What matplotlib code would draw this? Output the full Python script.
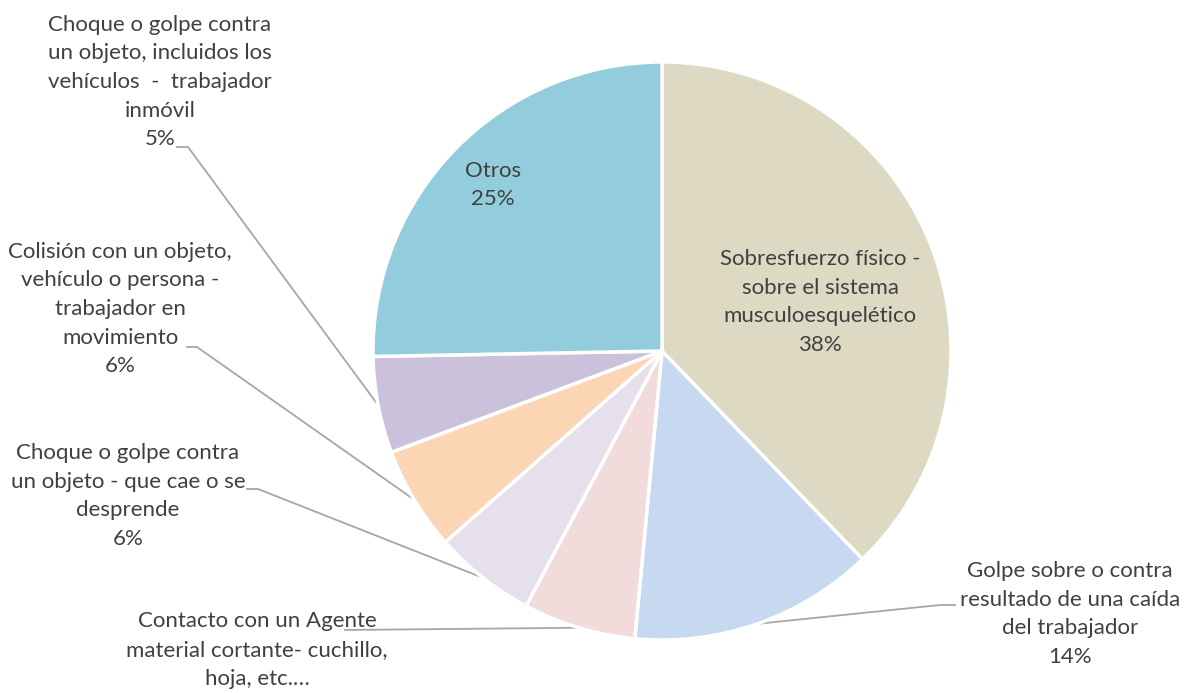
import numpy as np
import matplotlib.pyplot as plt

# share of accidents by type (percent)
labels = ['Sobresfuerzo físico -\nsobre el sistema\nmusculoesquelético',
          'Golpe sobre o contra\nresultado de una caída\ndel trabajador',
          'Contacto con un Agente\nmaterial cortante- cuchillo,\nhoja, etc.…',
          'Choque o golpe contra\nun objeto - que cae o se\ndesprende',
          'Colisión con un objeto,\nvehículo o persona -\ntrabajador en\nmovimiento',
          'Choque o golpe contra\nun objeto, incluidos los\nvehículos  -  trabajador\ninmóvil',
          'Otros']
values = [37.8, 13.7, 6.3, 5.7, 5.8, 5.4, 25.3]
colors = ['#DDD9C3', '#C6D9F1', '#F2DCDB', '#E5E0EC', '#FCD5B5', '#CCC1DA', '#93CDDD']

W, H = 1189, 693
def py(y):  # pixel row -> data y
    return H - y

plt.rcParams['font.family'] = ['Lato', 'DejaVu Sans']
txt_color = '#404040'
line_color = '#A6A6A6'

fig = plt.figure(figsize=(W / 100, H / 100), dpi=100)
ax = fig.add_axes([0, 0, 1, 1])
cx, cy, r = 662, py(351), 289
wedges, _ = ax.pie(values, colors=colors, startangle=90, counterclock=False,
                   center=(cx, cy), radius=r,
                   wedgeprops=dict(edgecolor='white', linewidth=2.5))
ax.set_xlim(0, W)
ax.set_ylim(0, H)
ax.set_aspect('equal')
ax.axis('off')

total = sum(values)
pct = ['%d%%' % round(v / total * 100) for v in values]

# (text x, text y, knee points of leader line) in pixels; None = label inside
layout = [
    (820, 302, None),
    (1070, 614, [(940, 605), (955, 605)]),
    (257, 650, [(345, 630)]),
    (128, 496, [(258, 489), (247, 489)]),
    (120, 309, [(197, 347), (187, 347)]),
    (160, 82, [(188, 147), (177, 147)]),
    (493, 185, None),
]

for i, (w, lab) in enumerate(zip(wedges, labels)):
    tx, ty, knees = layout[i]
    s = lab + '\n' + pct[i]
    if i == 2:
        s = lab  # percentage falls outside the picture
    ax.text(tx, py(ty), s, ha='center', va='center', fontsize=16,
            color=txt_color, linespacing=1.54)
    if knees:
        mid = np.deg2rad((w.theta1 + w.theta2) / 2)
        xs = [cx + r * np.cos(mid)] + [k[0] for k in knees]
        ys = [cy + r * np.sin(mid)] + [py(k[1]) for k in knees]
        ax.plot(xs, ys, color=line_color, lw=1.3, zorder=0.5)

fig.savefig('out.png', dpi=100)
